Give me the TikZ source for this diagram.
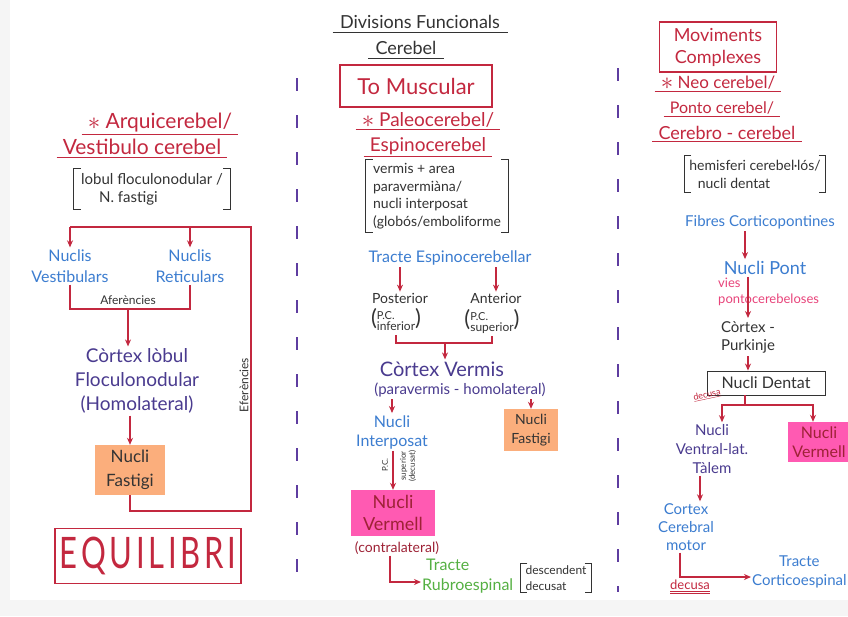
\documentclass[tikz,border=0pt]{standalone}
\usepackage{fontspec}
\setmainfont{Lato}
\usetikzlibrary{arrows.meta}

\definecolor{penred}{HTML}{C3283F}
\definecolor{pendarkred}{HTML}{9E2236}
\definecolor{penpink}{HTML}{E8437A}
\definecolor{penblue}{HTML}{3C7DD0}
\definecolor{penpurple}{HTML}{4A3B8F}
\definecolor{pengreen}{HTML}{55B043}
\definecolor{penblack}{HTML}{333333}
\definecolor{hlorange}{HTML}{FBAE7C}
\definecolor{hlpink}{HTML}{FF5AB2}
\definecolor{dividerpurple}{HTML}{5E3DA0}

\newcommand{\hand}[2]{\fontsize{#1}{#2}\selectfont}
\newcommand{\penstar}{\smash{\raisebox{-1pt}{\hand{24}{24}$\ast$}}}
\newcommand{\penunder}[2]{\draw[#1, penline] ([xshift=-4pt]#2.south west) -- ([xshift=4pt]#2.south east);}
\newcommand{\bracketnote}[1]{%
  \draw[bracket] ([xshift=7pt]#1.north west) -- (#1.north west) -- (#1.south west) -- ([xshift=7pt]#1.south west);
  \draw[bracket] ([xshift=-7pt]#1.north east) -- (#1.north east) -- (#1.south east) -- ([xshift=-7pt]#1.south east);}
\newcommand{\pcstack}[1]{{\hand{22}{22}(}\begin{tabular}{@{}l@{}}\hand{11}{11}P.C.\\[-2pt]\hand{12}{12}#1\end{tabular}{\hand{22}{22})}}

\tikzset{
  heading/.style={text=penred, font=\hand{20}{24}, inner sep=2pt},
  nucleus/.style={text=penblue, font=\hand{16}{21}, align=center, inner sep=2pt},
  cortex/.style={text=penpurple, font=\hand{19}{24}, align=center, inner sep=2pt},
  note/.style={text=penblack, font=\hand{14}{17}, align=left, inner xsep=7pt, inner ysep=4pt},
  tinynote/.style={text=penblack, font=\hand{8}{9}, align=center, inner sep=1pt},
  orangemark/.style={fill=hlorange, text=penblack, align=center, inner sep=2pt},
  pinkmark/.style={fill=hlpink, text=pendarkred, align=center, inner sep=2pt},
  flow/.style={draw=penred, line width=1.2pt, -{Stealth[length=7pt,width=6pt]}},
  link/.style={draw=penred, line width=1.2pt},
  penline/.style={line width=0.9pt},
  bracket/.style={draw=penblack, line width=0.9pt},
  divider/.style={draw=dividerpurple, line width=1.4pt, dash pattern=on 13pt off 24pt},
}

\begin{document}
\begin{tikzpicture}[x=1pt, y=-1pt]
  \fill[gray!8] (0,0) rectangle (848,616);
  \fill[white] (10,0) rectangle (848,600);
  \useasboundingbox (0,0) rectangle (848,616);

  % title
  \node[text=penblack, font=\hand{18}{22}] (title) at (420,22) {Divisions Funcionals};
  \node[text=penblack, font=\hand{18}{22}] (cerebel) at (406,48) {Cerebel};
  \penunder{penblack}{title}
  \penunder{penblack}{cerebel}

  \draw[divider] (297,78) -- (297,592);
  \draw[divider] (618,68) -- (618,592);

  % arquicerebel
  \node[heading, font=\hand{21}{24}] (arqui) at (160,123) {\penstar\ Arquicerebel/};
  \node[heading, font=\hand{21}{24}] (vestcer) at (142,147) {Vestibulo cerebel};
  \penunder{penred}{arqui}
  \penunder{penred}{vestcer}
  \node[note, font=\hand{15}{18}] (arquinote) at (152,189) {lobul floculonodular /\\\hspace{1.2em}N. fastigi};
  \bracketnote{arquinote}

  \node[nucleus] (vest) at (70,266) {Nuclis\\Vestibulars};
  \node[nucleus] (retic) at (190,266) {Nuclis\\Reticulars};
  \coordinate (aff) at (128,309);
  \draw[link] (vest.south) |- (aff) -| (retic.south);
  \node[text=penblack, font=\hand{12}{14}, inner sep=1pt] (afflabel) at (128,300) {Aferències};
  \node[cortex] (cortexA) at (137,381) {Còrtex lòbul\\Floculonodular\\(Homolateral)};
  \draw[flow] (aff) -- (aff |- cortexA.north);
  \node[orangemark, font=\hand{17}{24}, minimum width=70, minimum height=50] (fastA) at (130,470) {Nucli\\Fastigi};
  \draw[flow] (cortexA.south -| fastA.north) -- (fastA.north);

  \coordinate (efbottom) at (251,511);
  \coordinate (eftop) at (251,227);
  \draw[link] (fastA.south) |- (efbottom) -- (eftop) -- (eftop -| vest.north);
  \draw[flow] (eftop -| vest.north) -- (vest.north);
  \draw[flow] (eftop -| retic.north) -- (retic.north);
  \node[text=penblack, font=\hand{12}{14}, rotate=90, inner sep=1pt] (eflabel) at (244,385) {Eferències};

  \node[draw=penred, line width=1.1pt, text=penred, font=\hand{31}{31}\addfontfeature{LetterSpace=12}, minimum width=186, minimum height=55] (equil) at (148,556) {\scalebox{1}[1.4]{EQUILIBRI}};

  % paleocerebel
  \node[draw=penred, line width=1.1pt, heading, font=\hand{22}{24}, minimum width=152, minimum height=42] (tono) at (416,86) {To Muscular};
  \node[heading, font=\hand{19}{24}] (paleo) at (428,120) {\penstar\ Paleocerebel/};
  \node[heading, font=\hand{19}{24}] (espino) at (428,146) {Espinocerebel};
  \penunder{penred}{paleo}
  \penunder{penred}{espino}
  \node[note, font=\hand{14}{17.5}] (espinonote) at (437,196) {vermis + area\\paravermiàna/\\nucli interposat\\(globós/emboliforme};
  \bracketnote{espinonote}

  \node[nucleus] (espinotract) at (450,258) {Tracte Espinocerebellar};
  \node[text=penblack, font=\hand{14}{17}, inner sep=1pt] (post) at (400,298) {Posterior};
  \node[text=penblack, inner sep=1pt] (postpc) at (396,321) {\pcstack{inferior}};
  \node[text=penblack, font=\hand{14}{17}, inner sep=1pt] (ant) at (496,298) {Anterior};
  \node[text=penblack, inner sep=1pt] (antpc) at (492,322) {\pcstack{superior}};
  \draw[flow] (post.north |- espinotract.south) -- (post.north);
  \draw[flow] (ant.north |- espinotract.south) -- (ant.north);

  \coordinate (merge) at (445,343);
  \draw[link] (postpc.south) -- (postpc.south |- merge) -- (antpc.south |- merge) -- (antpc.south);
  \node[cortex, font=\hand{20}{24}] (cortexV) at (442,369) {Còrtex Vermis};
  \node[cortex, font=\hand{15}{18}] (paraverm) at (460,390) {(paravermis - homolateral)};
  \draw[flow] (merge) -- (merge |- cortexV.north);

  \node[nucleus, font=\hand{16}{19}] (interp) at (392,432) {Nucli\\Interposat};
  \node[orangemark, font=\hand{14}{19}, minimum width=54, minimum height=42] (fastV) at (531,430) {Nucli\\Fastigi};
  \draw[flow] (interp.north |- paraverm.south) -- (interp.north);
  \draw[flow] (fastV.north |- paraverm.south) -- (fastV.north);

  \node[pinkmark, font=\hand{18}{22}, minimum width=84, minimum height=46] (vermellV) at (393,513) {Nucli\\Vermell};
  \draw[flow, line width=1.6pt] (vermellV.north |- interp.south) -- (vermellV.north);
  \node[tinynote, rotate=90] (pclabel) at (385,465) {P.C.};
  \node[tinynote, rotate=90] (suplabel) at (408,466) {superior\\(decusat)};
  \node[text=pendarkred, font=\hand{14}{17}, inner sep=1pt] (contra) at (397,548) {(contralateral)};

  \node[text=pengreen, font=\hand{16}{20}, align=left, anchor=west, inner sep=1pt] (rubro) at (421,576) {\hspace{4pt}Tracte\\Rubroespinal};
  \draw[flow] ([xshift=-7pt]contra.south) |- ([yshift=-6pt]rubro.west);
  \node[note, font=\hand{12}{16}, inner xsep=5pt, inner ysep=2pt] (rubronote) at (556,578) {descendent\\decusat};
  \bracketnote{rubronote}

  % neocerebel
  \node[draw=penred, line width=1.1pt, heading, font=\hand{18}{22}, align=center, minimum width=117, minimum height=50] (movcomp) at (718,47) {Moviments\\Complexes};
  \node[heading, font=\hand{17}{20}] (neo) at (718,83) {\penstar\ Neo cerebel/};
  \node[heading, font=\hand{16}{20}] (ponto) at (722,108) {Ponto cerebel/};
  \node[heading, font=\hand{18}{22}] (cerebro) at (727,133) {Cerebro - cerebel};
  \penunder{penred}{neo}
  \penunder{penred}{ponto}
  \penunder{penred}{cerebro}
  \node[note, font=\hand{14}{18}, inner xsep=5pt] (neonote) at (755,174) {hemisferi cerebel·lós/\\\hspace{0.6em}nucli dentat};
  \bracketnote{neonote}

  \node[nucleus, font=\hand{15}{18}] (fibres) at (760,222) {Fibres Corticopontines};
  \node[nucleus, font=\hand{18}{22}] (pont) at (765,268) {Nucli Pont};
  \node[text=penpink, font=\hand{13}{16}, align=left, anchor=west, inner sep=1pt] (vies) at (717,292) {vies\\pontocerebeloses};
  \node[text=penblack, font=\hand{15}{18}, align=center, inner sep=3pt] (purk) at (748,337) {Còrtex -\\Purkinje};
  \draw[flow] ([xshift=-20pt]pont.north |- fibres.south) -- ([xshift=-20pt]pont.north);
  \draw[flow] (purk.north |- pont.south) -- (purk.north);

  \node[draw=penblack, line width=0.9pt, text=penblack, font=\hand{16}{18}, minimum width=118, minimum height=24] (dentat) at (766,383) {Nucli Dentat};
  \draw[flow] (purk.south) -- (purk.south |- dentat.north);

  \node[cortex, font=\hand{15}{19}] (talem) at (712,449) {Nucli\\Ventral-lat.\\Tàlem};
  \node[pinkmark, font=\hand{16}{19}, minimum width=62, minimum height=40] (vermellR) at (819,442) {Nucli\\Vermell};
  \coordinate (dentsplit) at (745,405);
  \draw[link] (dentat.south -| dentsplit) -- (dentsplit);
  \draw[flow] (dentsplit) -| ([xshift=10pt]talem.north);
  \draw[flow] (dentsplit) -| ([xshift=-6pt]vermellR.north);
  \node[text=penred, font=\hand{9}{10}, rotate=12, inner sep=1pt] (decusaA) at (707,395) {\underline{decusa}};

  \node[nucleus, font=\hand{15}{18}] (motor) at (686,527) {Cortex\\Cerebral\\motor};
  \draw[flow] ([xshift=-12pt]talem.south) -- ([xshift=14pt]motor.north);
  \node[nucleus, font=\hand{15}{19}, anchor=west, inner sep=1pt] (cortesp) at (751,572) {Tracte\\Corticoespinal};
  \draw[flow] ([xshift=-6pt]motor.south) |- ([yshift=-5pt]cortesp.west);
  \node[text=penred, font=\hand{13}{15}, inner sep=1pt] (decusaB) at (690,587) {\underline{\underline{decusa}}};
\end{tikzpicture}
\end{document}
